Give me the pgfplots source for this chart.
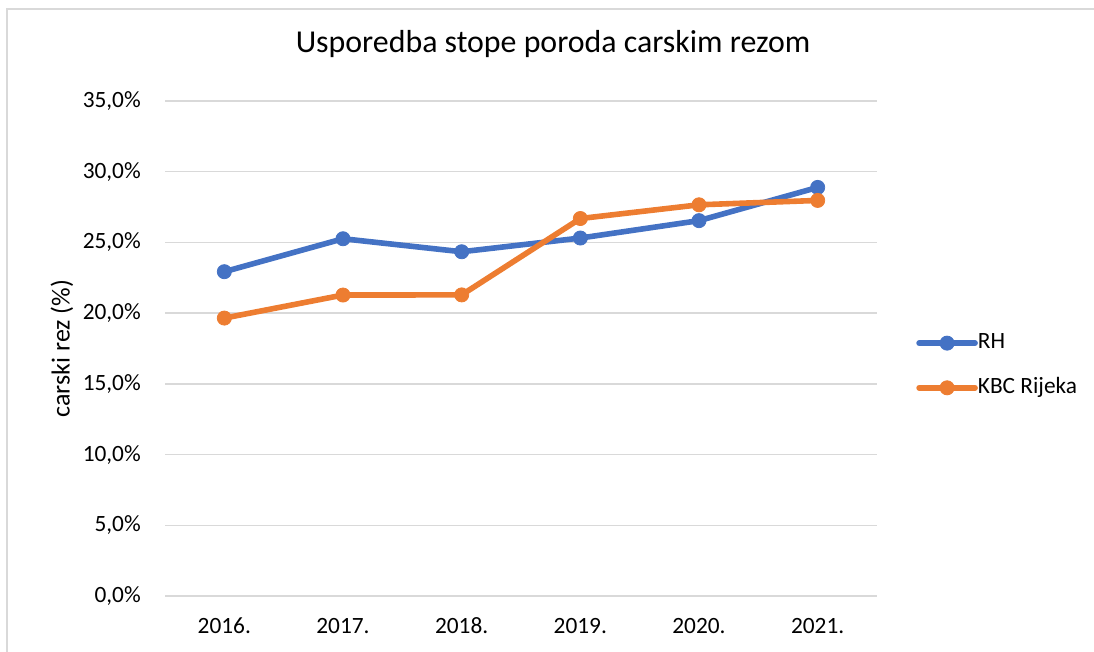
\documentclass[border=0pt]{standalone}
\usepackage{fontspec}
\setmainfont{Carlito}
\usepackage{pgfplots}
\pgfplotsset{compat=1.18}
\definecolor{rhblue}{HTML}{4472C4}
\definecolor{kbcorange}{HTML}{ED7D31}
\definecolor{gridgray}{HTML}{D9D9D9}
\begin{document}
\begin{tikzpicture}
\useasboundingbox (0,0) rectangle (820.5pt,489pt);
\draw[gridgray, line width=1.1pt] (5.25pt,0) -- (5.25pt,482.25pt) -- (820.5pt,482.25pt);
\begin{axis}[
 at={(123.75pt,42pt)}, anchor=south west,
 scale only axis, width=534pt, height=371.25pt,
 xmin=-0.5, xmax=5.5, ymin=0, ymax=35,
 xtick={0,1,2,3,4,5},
 xticklabels={2016.,2017.,2018.,2019.,2020.,2021.},
 ytick={0,5,10,15,20,25,30,35},
 yticklabel={\pgfmathprintnumber{\tick}\%},
 /pgf/number format/fixed, /pgf/number format/fixed zerofill,
 /pgf/number format/precision=1, /pgf/number format/use comma,
 /pgf/number format/assume math mode=true,
 axis line style={draw=none},
 major tick length=0pt,
 ymajorgrids, grid style={gridgray, line width=1.1pt},
 tick label style={font=\fontsize{17.5pt}{20pt}\selectfont, text=black},
 yticklabel style={anchor=east, inner sep=0pt, xshift=-18pt},
 xticklabel style={anchor=base, inner sep=0pt, yshift=-28.5pt},
 ylabel={carski rez (\%)},
 ylabel style={at={(axis description cs:-0.1447,0.5)}, anchor=center, inner sep=0pt, font=\fontsize{19.5pt}{22pt}\selectfont},
 title={Usporedba stope poroda carskim rezom},
 title style={at={(axis description cs:0.545,1.0828)}, anchor=base, inner sep=0pt, font=\fontsize{23.9pt}{28pt}\selectfont},
 legend image code/.code={\draw[mark repeat=2,mark phase=2,#1] plot coordinates {(0pt,0pt) (21pt,0pt) (42pt,0pt)};},
 legend style={draw=none, fill=none, at={(axis description cs:1.0548,0.4657)}, anchor=west, inner sep=0pt,
   font=\fontsize{17.5pt}{20pt}\selectfont, row sep=18pt,
   nodes={inner sep=0pt, text height=12pt, text depth=3.5pt},
   /tikz/every even column/.append style={column sep=3.5pt}},
 legend cell align=left,
 clip=false,
]
\addplot[rhblue, line width=4.2pt, line join=round, line cap=round, mark=*, mark size=5.3pt, mark options={fill=rhblue, draw=rhblue, line width=0.6pt}]
 coordinates {(0,22.93) (1,25.26) (2,24.34) (3,25.31) (4,26.54) (5,28.89)};
\addlegendentry{RH}
\addplot[kbcorange, line width=4.2pt, line join=round, line cap=round, mark=*, mark size=5.3pt, mark options={fill=kbcorange, draw=kbcorange, line width=0.6pt}]
 coordinates {(0,19.65) (1,21.28) (2,21.29) (3,26.69) (4,27.66) (5,27.97)};
\addlegendentry{KBC Rijeka}
\end{axis}
\end{tikzpicture}
\end{document}
